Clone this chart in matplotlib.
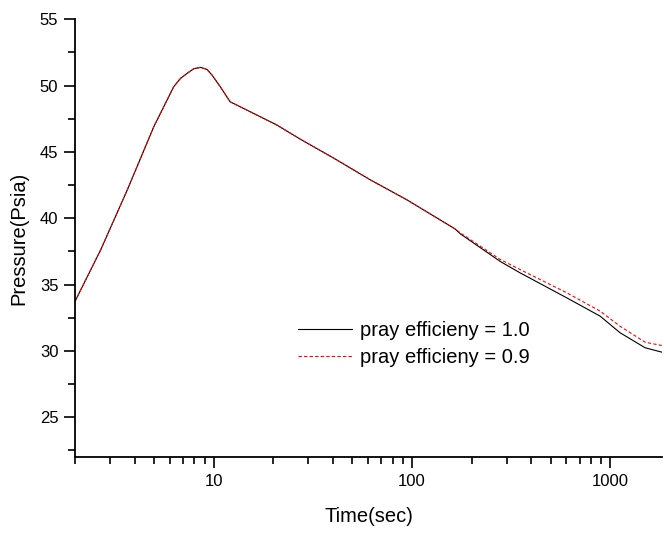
import matplotlib
matplotlib.use("Agg")
import matplotlib.pyplot as plt
from matplotlib.ticker import FixedLocator, LogLocator, NullFormatter

plt.rcParams["font.family"] = ["Liberation Sans", "DejaVu Sans"]

# values
time = [2.0, 2.69, 3.66, 4.99, 5.6, 6.28, 6.8, 7.35, 7.93, 8.57, 9.25, 9.8, 10.8,
        12.1, 20.8, 27.4, 40.3, 61.5, 94.2, 165, 175, 278, 351, 603, 888, 1119,
        1496, 1815]
p_eff10 = [33.74, 37.6, 42.1, 46.9, 48.4, 49.9, 50.54, 50.92, 51.27, 51.37, 51.22,
           50.8, 49.91, 48.78, 47.03, 45.95, 44.53, 42.9, 41.39, 39.19, 38.83,
           36.75, 35.88, 34.0, 32.62, 31.37, 30.24, 29.91]
p_eff09 = [33.74, 37.6, 42.1, 46.9, 48.4, 49.9, 50.54, 50.92, 51.27, 51.37, 51.22,
           50.8, 49.91, 48.78, 47.03, 45.95, 44.53, 42.9, 41.39, 39.19, 38.9,
           36.9, 36.13, 34.38, 33.0, 31.86, 30.66, 30.41]
labels = ["pray efficieny = 1.0", "pray efficieny = 0.9"]

fig = plt.figure(figsize=(6.64, 5.34), dpi=100)
ax = fig.add_axes([0.113, 0.144, 0.884, 0.82])

ax.plot(time, p_eff10, color="black", lw=0.8, label=labels[0])
ax.plot(time, p_eff09, color="red", lw=0.8, ls=(0, (3, 2)), label=labels[1])

ax.set_xscale("log")
ax.set_xlim(2, 1820)
ax.set_ylim(22, 55)

ax.set_yticks([25, 30, 35, 40, 45, 50, 55])
ax.yaxis.set_minor_locator(FixedLocator([22.5, 27.5, 32.5, 37.5, 42.5, 47.5, 52.5]))
ax.xaxis.set_major_locator(FixedLocator([10, 100, 1000]))
ax.set_xticklabels(["10", "100", "1000"])
ax.xaxis.set_minor_locator(LogLocator(base=10, subs=range(2, 10)))
ax.xaxis.set_minor_formatter(NullFormatter())

for side in ("top", "right"):
    ax.spines[side].set_visible(False)
for side in ("left", "bottom"):
    ax.spines[side].set_linewidth(1.3)

ax.tick_params(which="major", direction="out", length=8, width=1.2, labelsize=12, pad=4)
ax.tick_params(which="minor", direction="out", length=5, width=1.2)

ax.set_xlabel("Time(sec)", fontsize=14.5, labelpad=13)
ax.set_ylabel("Pressure(Psia)", fontsize=14.5, labelpad=8)

ax.legend(loc="upper left", bbox_to_anchor=(0.38, 0.31), frameon=False,
          fontsize=14.5, handlelength=2.7, handletextpad=0.35,
          labelspacing=0.4, borderpad=0, borderaxespad=0)

fig.savefig("out.png", dpi=100)
